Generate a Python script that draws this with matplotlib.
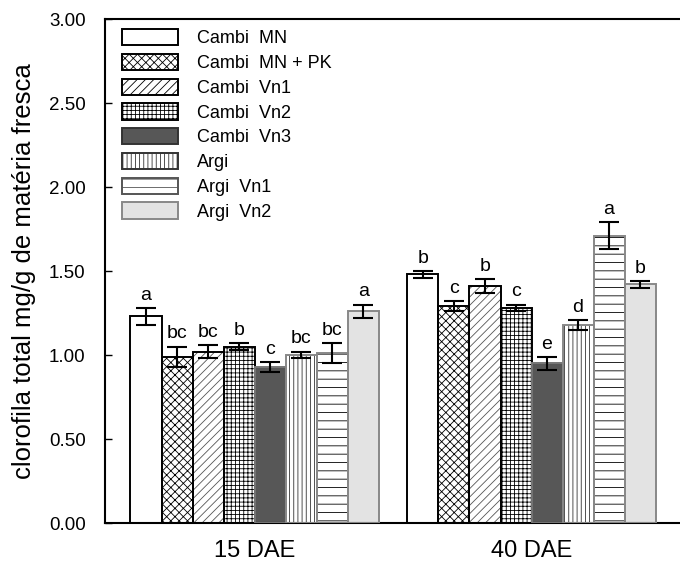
import numpy as np
import matplotlib.pyplot as plt

plt.rcParams['font.family'] = ['Liberation Sans', 'DejaVu Sans']
plt.rcParams['hatch.linewidth'] = 0.6

# data
groups = ['15 DAE', '40 DAE']
treatments = ['Cambi  MN', 'Cambi  MN + PK', 'Cambi  Vn1', 'Cambi  Vn2',
              'Cambi  Vn3', 'Argi', 'Argi  Vn1', 'Argi  Vn2']
vals_15 = [1.23, 0.99, 1.02, 1.05, 0.93, 1.00, 1.01, 1.26]
err_15 = [0.05, 0.06, 0.04, 0.02, 0.03, 0.02, 0.06, 0.04]
let_15 = ['a', 'bc', 'bc', 'b', 'c', 'bc', 'bc', 'a']
vals_40 = [1.48, 1.29, 1.41, 1.28, 0.95, 1.18, 1.71, 1.42]
err_40 = [0.02, 0.03, 0.04, 0.02, 0.04, 0.03, 0.08, 0.02]
let_40 = ['b', 'c', 'b', 'c', 'e', 'd', 'a', 'b']

# styles per treatment
faces = ['white', 'white', 'white', 'white', '#575757', 'white', 'white', '#e3e3e3']
hatches = [None, 'xxxx', '////', '++++', None, '||||', '--', None]
hatch_cols = ['black', 'black', '#555555', 'black', 'black', '#333333', 'black', 'black']
edges = ['black', 'black', 'black', 'black', '#777777', '#888888', '#888888', '#888888']
leg_edges = ['black', 'black', 'black', 'black', '#333333', '#333333', '#555555', '#888888']

fig = plt.figure(figsize=(6.8, 5.61), dpi=100)
ax = fig.add_axes([105/680, 38/561, 1 - 105/680, 504/561])

w = 0.112
x = np.arange(len(groups))
data = np.array([vals_15, vals_40])
errs = np.array([err_15, err_40])
lets = [let_15, let_40]

handles = []
for i in range(len(treatments)):
    pos = x + (i - 3.5) * w
    # fill + hatch
    ax.bar(pos, data[:, i], w, color=faces[i], hatch=hatches[i],
           edgecolor=hatch_cols[i], linewidth=0, zorder=2)
    # outline
    ax.bar(pos, data[:, i], w, color='none', edgecolor=edges[i],
           linewidth=1.4, zorder=3)
    ax.errorbar(pos, data[:, i], yerr=errs[:, i], fmt='none', ecolor='black',
                elinewidth=1.5, capsize=7, capthick=1.5, zorder=4)
    for g in range(len(groups)):
        ax.annotate(lets[g][i], (pos[g], data[g, i] + errs[g, i]),
                    xytext=(0, 3), textcoords='offset points',
                    ha='center', va='bottom', fontsize=14)
    # legend proxy
    h = plt.Rectangle((0, 0), 1, 1, facecolor=faces[i], hatch=hatches[i],
                      edgecolor=leg_edges[i], linewidth=1.4)
    handles.append(h)

ax.set_xlim(-0.54, 1.536)
ax.set_ylim(0, 3.0)
ax.set_yticks(np.arange(0, 3.01, 0.5))
ax.set_yticklabels(['%.2f' % v for v in np.arange(0, 3.01, 0.5)], fontsize=13.5)
ax.set_xticks(x)
ax.set_xticklabels(groups, fontsize=17)
ax.tick_params(axis='x', length=0, pad=12)
ax.tick_params(axis='y', direction='in', length=5, width=1, pad=14)
ax.set_ylabel('clorofila total mg/g de matéria fresca', fontsize=18.5, labelpad=9)

ax.spines['right'].set_visible(False)
for s in ['left', 'bottom', 'top']:
    ax.spines[s].set_linewidth(1.5)

leg = ax.legend(handles, treatments, loc='upper left',
                bbox_to_anchor=(0.03, 0.98), frameon=False, fontsize=13,
                handlelength=3.1, handleheight=1.0, labelspacing=0.36,
                handletextpad=1.05, borderpad=0, borderaxespad=0)

fig.savefig('out.png', dpi=100)
